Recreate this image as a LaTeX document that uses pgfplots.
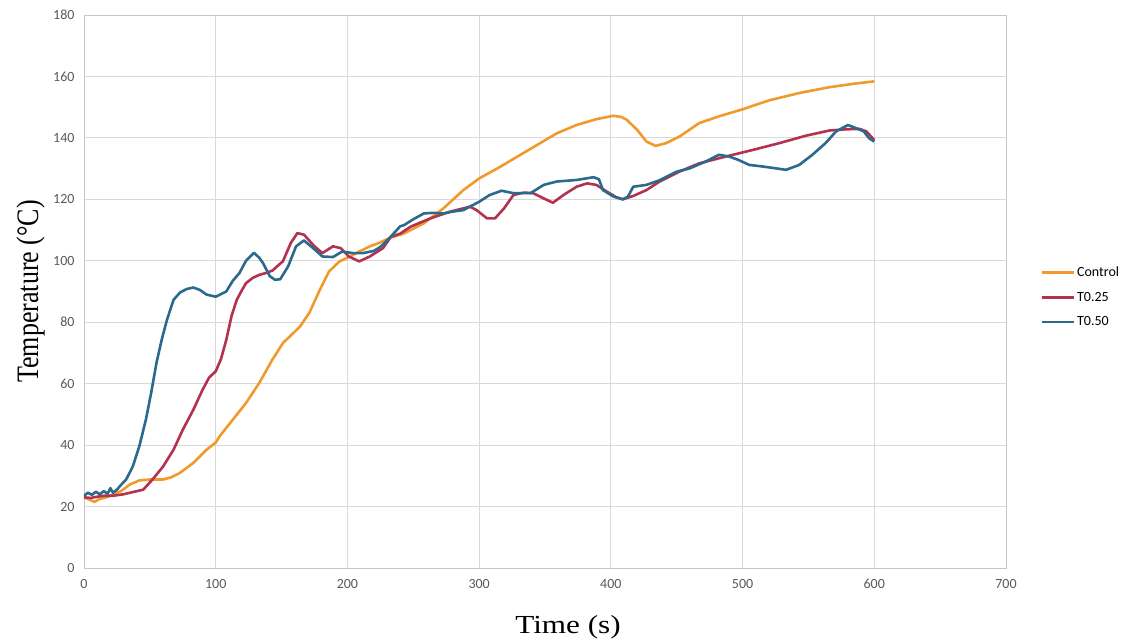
\documentclass[border=0pt]{standalone}
\usepackage{pgfplots}
\pgfplotsset{compat=1.18}
\usepackage{fontspec}
\setmainfont{Carlito}
\newfontfamily\labelfont{Liberation Serif}

\definecolor{ctrl}{HTML}{F19A2C}
\definecolor{tqtr}{HTML}{B3324F}
\definecolor{thalf}{HTML}{2B6A8C}
\definecolor{gridc}{HTML}{D9D9D9}
\definecolor{tickc}{HTML}{595959}

\begin{document}
\begin{tikzpicture}
\begin{axis}[
    scale only axis,
    width=922pt, height=553pt,
    xmin=0, xmax=700, ymin=0, ymax=180,
    xtick={0,100,...,700},
    ytick={0,20,...,180},
    grid=major,
    major grid style={gridc, line width=0.8pt},
    axis line style={gridc!80!gray, line width=0.8pt},
    major tick length=0pt,
    tick label style={font=\fontsize{14}{16}\selectfont, text=tickc},
    /pgf/number format/assume math mode=true,
    xticklabel style={yshift=-8pt},
    yticklabel style={xshift=-6pt},
    xlabel={Time (s)},
    ylabel={Temperature (°C)},
    xlabel style={font=\labelfont\fontsize{26}{30}\selectfont, at={(axis description cs:0.525,-0.108)}, anchor=center, xscale=1.2},
    ylabel style={font=\labelfont\fontsize{26}{30}\selectfont, at={(axis description cs:-0.058,0.5)}, anchor=center, yscale=1.2},
    legend style={draw=none, fill=none, at={(rel axis cs:1.034,0.49)}, anchor=west,
        font=\fontsize{14}{16}\selectfont, row sep=10pt},
    legend cell align=left,
    legend image code/.code={\draw[#1] (0pt,0pt) -- (32pt,0pt);},
    every axis plot/.append style={line width=2.6pt, line join=round},
]
\addplot[ctrl] coordinates {
(0,23)(4,22.3)(8,21.5)(12,22.5)(17,23)(22,23.9)(28,25)(35,27.2)(42,28.5)(50,28.8)
(60,28.8)(66,29.5)(73,31)(83,34.2)(93,38.5)(100,40.8)(103,42.9)(113,48.3)(123,53.7)
(133,60.2)(143,67.8)(151,73.2)(164,78.6)(171,83)(179,90.5)(186,96.5)(194,99.8)
(202,101.4)(209,103)(217,104.7)(224,105.8)(232,107.4)(243,108.9)(258,112.2)(273,117.1)
(288,123)(300,126.8)(314,130.1)(329,133.9)(344,137.7)(359,141.5)(374,144.2)(389,146.1)
(402,147.2)(408,146.8)(412,145.9)(420,142.6)(427,138.8)(434,137.4)(442,138.3)(452,140.4)
(467,144.8)(482,147)(500,149.3)(520,152.2)(543,154.6)(566,156.5)(584,157.6)(600,158.4)
};
\addlegendentry{Control}
\addplot[tqtr] coordinates {
(0,23)(5,22.8)(10,23.2)(15,23.5)(22,23.5)(30,24)(35,24.5)(45,25.5)(52,28.8)(60,33)
(68,38.5)(75,45)(83,51.5)(90,58)(95,62)(100,64)(104,68)(108,74.2)(112,82)(116,87.3)
(120,90.5)(123,92.7)(128,94.4)(133,95.4)(138,96)(143,96.8)(148,98.7)(151,99.8)
(157,105.8)(162,109)(167,108.5)(175,104.7)(181,102.5)(189,104.7)(195,104.1)(201,101.4)
(209,99.8)(217,101.4)(227,104.1)(233,107.8)(240,108.8)(248,111.1)(263,113.8)(278,116)
(293,117.6)(298,116.5)(306,113.8)(312,113.8)(319,117.1)(326,121.4)(334,122.2)(341,122)
(349,120.3)(356,118.9)(364,121.4)(374,124.1)(382,125.2)(389,124.7)(397,122.5)(404,120.7)
(409,120)(417,121.1)(427,123)(437,125.8)(452,129)(467,131.7)(487,133.9)(508,136.1)
(528,138.3)(548,140.7)(566,142.4)(579,142.8)(589,142.9)(594,142.1)(600,139.3)
};
\addlegendentry{T0.25}
\addplot[thalf] coordinates {
(0,23.5)(3,24.5)(6,23.8)(9,24.8)(12,24)(15,25)(18,24.2)(20,26)(22,24.5)(25,25.5)
(28,27)(32,28.8)(37,33)(42,39.6)(47,48.3)(51,57)(55,66.7)(59,74.3)(63,80.8)(68,87.3)
(73,89.7)(78,90.8)(83,91.3)(88,90.5)(93,89)(100,88.3)(108,90)(113,93.5)(118,96)
(123,100)(129,102.6)(133,101)(136,99.2)(141,95)(145,93.8)(149,94)(155,98.2)(161,104.7)
(167,106.6)(174,104.1)(181,101.4)(189,101.2)(196,103)(204,102.5)(212,102.5)(220,103.2)
(225,104.5)(232,107.4)(240,111.2)(243,111.6)(250,113.5)(258,115.4)(265,115.6)(273,115.4)
(280,116)(288,116.5)(300,119.2)(308,121.4)(317,122.8)(326,122)(339,122)(349,124.7)
(359,125.8)(374,126.3)(387,127.2)(391,126.5)(394,123)(402,120.9)(409,120)(413,120.9)
(417,124.1)(427,124.7)(437,126.2)(450,129)(460,130.1)(472,132.3)(482,134.5)(490,133.9)
(497,132.8)(505,131.2)(515,130.7)(525,130.1)(533,129.6)(543,131.2)(553,134.5)(563,138.3)
(571,142.1)(580,144.2)(586,143.2)(592,142.1)(596,139.9)(600,138.8)
};
\addlegendentry{T0.50}
\end{axis}
\pgfresetboundingbox
\useasboundingbox (-84pt,-76pt) rectangle (1044pt,568pt);
\end{tikzpicture}
\end{document}
